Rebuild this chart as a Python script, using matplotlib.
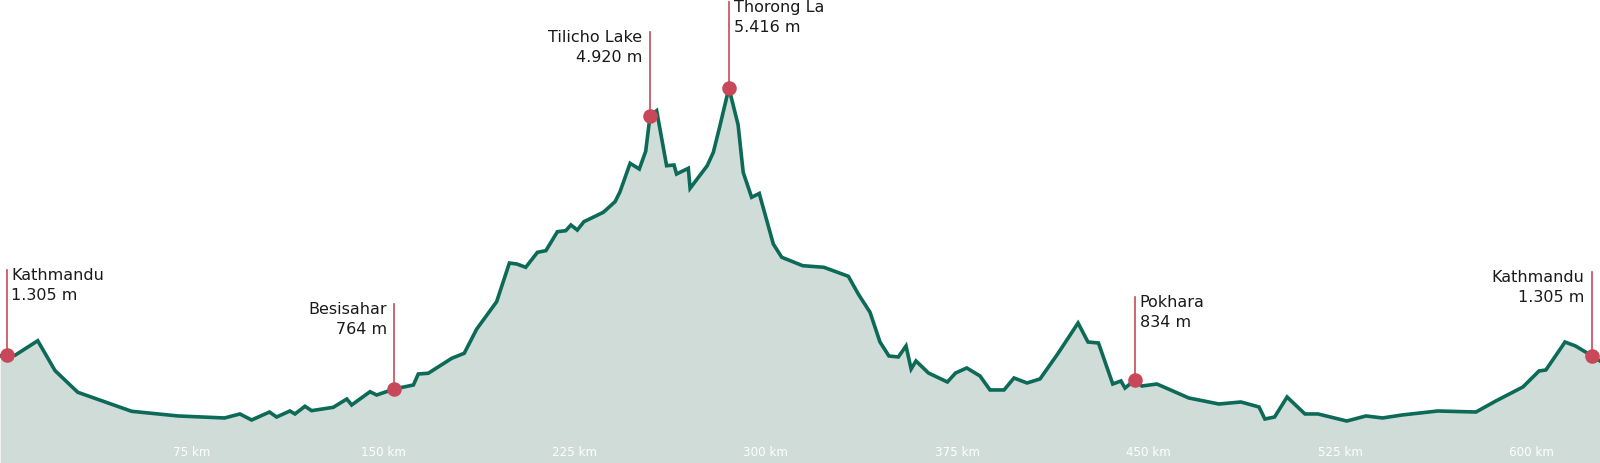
import matplotlib
matplotlib.use("Agg")
import matplotlib.pyplot as plt

# ---- data (distance in km, elevation in m) ----
distance_km = [0, 2.5, 5.8, 14.7, 21.5, 30.4, 51.5, 69.7, 87.9, 93.9, 98.5, 105.5, 108.3,
               113.5, 115.5, 119.4, 122.0, 130.5, 135.8, 137.7, 144.9, 147.5, 154.4, 161.9,
               163.8, 167.7, 176.9, 181.8, 186.7, 194.5, 199.5, 202.4, 205.9, 210.5, 213.8,
               218.3, 221.6, 223.6, 226.1, 228.7, 236.3, 240.9, 242.8, 246.8, 250.4, 252.9,
               254.6, 257.2, 261.1, 264.0, 265.0, 269.6, 270.3, 277.0, 279.4, 282.0, 285.5,
               289.1, 291.1, 294.4, 297.4, 302.9, 306.2, 314.4, 322.7, 332.3, 336.2, 340.8,
               344.7, 348.2, 351.9, 354.9, 356.9, 358.8, 363.7, 371.1, 374.3, 378.7, 383.9,
               387.8, 393.3, 397.2, 402.3, 407.4, 414.3, 422.3, 426.2, 430.3, 435.9, 439.1,
               440.7, 444.5, 447.3, 453.2, 465.7, 477.5, 486.1, 493.2, 495.5, 499.3, 504.2,
               511.2, 516.3, 527.6, 535.1, 541.6, 549.2, 563.3, 578.2, 586.0, 596.6, 602.9,
               605.6, 613.1, 617.2, 623.7, 626.8]
elevation_m = [1290, 1305, 1300, 1525, 1062, 728, 434, 362, 331, 393, 300, 423, 346,
               439, 393, 512, 444, 496, 624, 532, 737, 686, 779, 841,
               1011, 1022, 1253, 1331, 1706, 2128, 2726, 2711, 2660, 2892, 2917,
               3210, 3226, 3314, 3236, 3365, 3510, 3674, 3824, 4267, 4179, 4453,
               4998, 5080, 4230, 4241, 4102, 4190, 3881, 4230, 4437, 4849, 5431,
               4864, 4128, 3742, 3801, 3020, 2815, 2685, 2660, 2521, 2247, 1964,
               1505, 1289, 1274, 1444, 1088, 1212, 1026, 887, 1026, 1104, 980,
               764, 764, 949, 872, 934, 1320, 1799, 1505, 1490, 856, 903,
               794, 918, 825, 856, 640, 547, 578, 501, 315, 346, 655,
               393, 393, 284, 362, 331, 377, 439, 423, 594, 810, 1057,
               1073, 1505, 1444, 1289, 1212]

# ---- annotated places ----
place_names = ["Kathmandu", "Besisahar", "Tilicho Lake", "Thorong La", "Pokhara", "Kathmandu"]
place_elev_labels = ["1.305 m", "764 m", "4.920 m", "5.416 m", "834 m", "1.305 m"]
place_index = [1, 22, 46, 56, 91, 115]
place_stem_top_m = [2618, 2093, 6297, 6760, 2201, 2592]
place_side = ["right", "left", "left", "right", "right", "left"]

# ---- x tick labels ----
tick_km = [75, 150, 225, 300, 375, 450, 525, 600]
tick_labels = [f"{k} km" for k in tick_km]

# ---- style ----
FILL = "#cfdcd8"
LINE = "#0c6a57"
RED = "#c8485a"
TEXT = "#1a1a1a"
YMIN, YMAX = -365, 6807

fig = plt.figure(figsize=(16, 4.64), dpi=100)
ax = fig.add_axes([0, 0, 1, 1])
ax.set_xlim(-0.08, 626.8)
ax.set_ylim(YMIN, YMAX)
ax.axis("off")

ax.fill_between(distance_km, elevation_m, YMIN, color=FILL, lw=0, zorder=1)
ax.plot(distance_km, elevation_m, color=LINE, lw=2.6, solid_joinstyle="miter", zorder=3)

for name, elev, idx, top, side in zip(place_names, place_elev_labels, place_index,
                                     place_stem_top_m, place_side):
    x = distance_km[idx]
    y = elevation_m[idx]
    ax.plot([x, x], [y, top], color=RED, lw=1.2, zorder=2)
    ax.plot([x], [y], "o", color=RED, ms=10.5, mec="none", zorder=4)
    dx = 3.5 if side == "right" else -5.5
    ha = "left" if side == "right" else "right"
    ax.annotate(name, xy=(x, top), xytext=(dx, -6.6), textcoords="offset points",
                ha=ha, va="baseline", fontsize=11.5, color=TEXT, zorder=5)
    ax.annotate(elev, xy=(x, top), xytext=(dx, -21.0), textcoords="offset points",
                ha=ha, va="baseline", fontsize=11.5, color=TEXT, zorder=5)

for k, lab in zip(tick_km, tick_labels):
    ax.text(k, 8 / 464, lab, transform=ax.get_xaxis_transform(), ha="center",
            va="baseline", fontsize=8.6, color="white", zorder=5)

fig.savefig("out.png", dpi=100)
